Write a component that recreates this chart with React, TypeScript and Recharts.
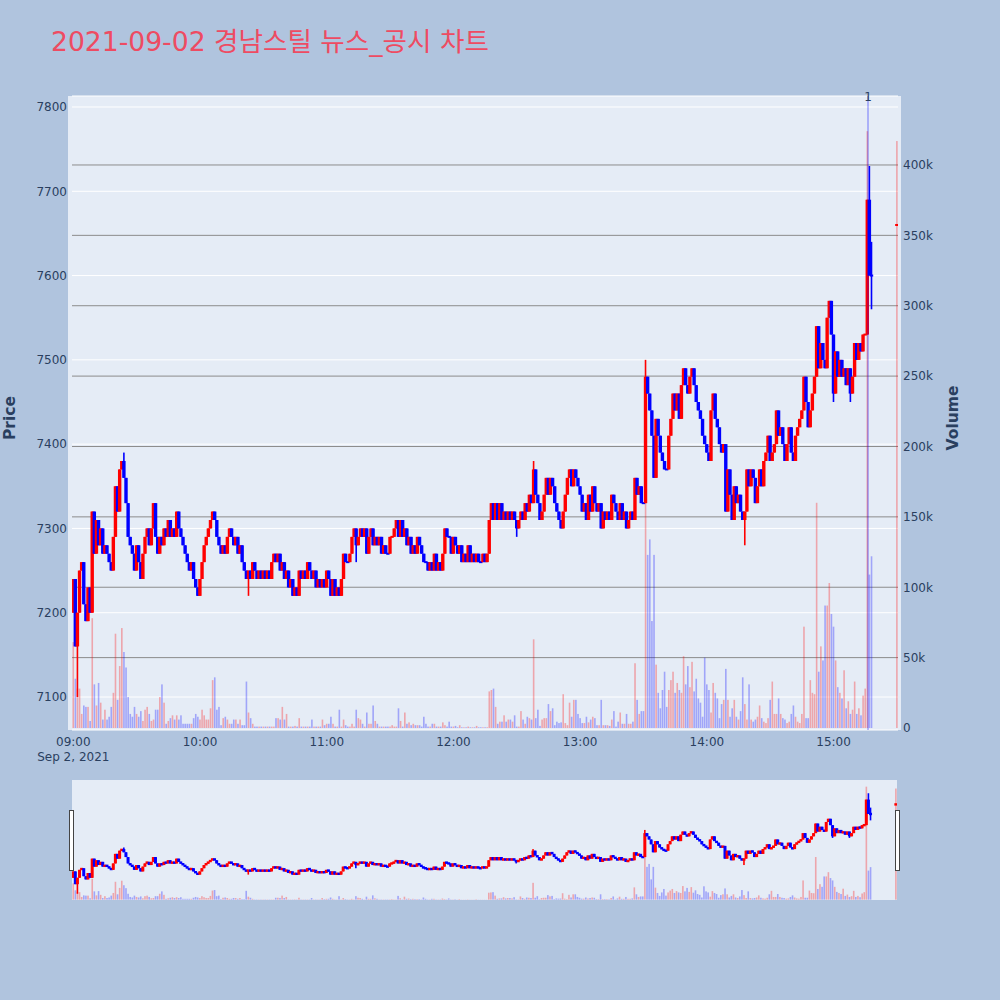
import React from 'react';
import { ComposedChart, Bar, XAxis, YAxis, CartesianGrid, ReferenceLine } from 'recharts';

// ---------- text ----------
const titleText = '2021-09-02 경남스틸 뉴스_공시 차트';
const dateLabel = 'Sep 2, 2021';
const priceAxisTitle = 'Price';
const volumeAxisTitle = 'Volume';

// ---------- ticks ----------
const timeTicks = [0, 60, 120, 180, 240, 300, 360]; // minutes after 09:00
const timeLabels = ['09:00', '10:00', '11:00', '12:00', '13:00', '14:00', '15:00'];
const priceTicks = [7100, 7200, 7300, 7400, 7500, 7600, 7700, 7800];
const volumeTicks = [0, 50000, 100000, 150000, 200000, 250000, 300000, 350000, 400000];
const volumeGridValues = [50000, 100000, 150000, 200000, 250000, 300000, 350000, 400000];

// ---------- data (one entry per minute from 09:00) ----------
const firstOpen = 7200;
const closes = [
  7240, 7160, 7200, 7250, 7260, 7210, 7190, 7230, 7200, 7320,
  7270, 7310, 7280, 7300, 7270, 7280, 7270, 7260, 7250, 7290,
  7350, 7320, 7370, 7380, 7360, 7330, 7290, 7280, 7270, 7250,
  7280, 7260, 7240, 7270, 7290, 7300, 7280, 7300, 7330, 7290,
  7270, 7290, 7280, 7300, 7290, 7310, 7290, 7300, 7290, 7320,
  7300, 7290, 7280, 7270, 7260, 7250, 7260, 7240, 7230, 7220,
  7240, 7260, 7280, 7290, 7300, 7310, 7320, 7310, 7290, 7280,
  7270, 7280, 7270, 7290, 7300, 7290, 7280, 7290, 7270, 7280,
  7260, 7250, 7240, 7250, 7240, 7260, 7250, 7240, 7250, 7240,
  7250, 7240, 7250, 7240, 7260, 7270, 7260, 7270, 7250, 7260,
  7240, 7250, 7230, 7240, 7220, 7230, 7220, 7250, 7240, 7250,
  7240, 7260, 7250, 7240, 7250, 7230, 7240, 7230, 7240, 7230,
  7250, 7240, 7220, 7240, 7220, 7230, 7220, 7240, 7270, 7260,
  7260, 7270, 7290, 7300, 7280, 7290, 7300, 7290, 7300, 7270,
  7290, 7300, 7280, 7290, 7280, 7290, 7270, 7280, 7270, 7270,
  7290, 7290, 7300, 7310, 7290, 7310, 7290, 7300, 7280, 7290,
  7270, 7280, 7270, 7290, 7280, 7270, 7260, 7260, 7250, 7260,
  7250, 7270, 7250, 7260, 7250, 7270, 7300, 7290, 7290, 7270,
  7290, 7280, 7270, 7280, 7260, 7270, 7260, 7280, 7260, 7270,
  7260, 7270, 7260, 7260, 7270, 7260, 7270, 7310, 7330, 7310,
  7330, 7310, 7330, 7310, 7320, 7310, 7320, 7310, 7320, 7310,
  7300, 7310, 7320, 7310, 7330, 7320, 7340, 7330, 7370, 7340,
  7330, 7310, 7320, 7340, 7360, 7340, 7360, 7350, 7330, 7320,
  7310, 7300, 7320, 7340, 7360, 7370, 7350, 7370, 7360, 7350,
  7340, 7320, 7330, 7310, 7340, 7320, 7350, 7330, 7320, 7330,
  7300, 7320, 7310, 7320, 7310, 7340, 7330, 7320, 7310, 7330,
  7310, 7320, 7300, 7310, 7320, 7310, 7360, 7340, 7350, 7330,
  7330, 7480, 7460, 7440, 7410, 7360, 7430, 7410, 7390, 7380,
  7370, 7370, 7410, 7430, 7460, 7440, 7460, 7430, 7470, 7490,
  7470, 7460, 7480, 7490, 7470, 7450, 7440, 7430, 7410, 7400,
  7390, 7380, 7440, 7460, 7430, 7420, 7400, 7390, 7400, 7320,
  7370, 7340, 7310, 7350, 7330, 7340, 7320, 7310, 7320, 7370,
  7350, 7370, 7360, 7330, 7350, 7370, 7350, 7380, 7390, 7410,
  7380, 7390, 7400, 7440, 7410, 7420, 7400, 7380, 7400, 7420,
  7390, 7380, 7410, 7420, 7430, 7440, 7480, 7450, 7420, 7440,
  7460, 7480, 7540, 7490, 7520, 7500, 7490, 7550, 7570, 7530,
  7460, 7510, 7480, 7500, 7480, 7490, 7470, 7490, 7460, 7480,
  7520, 7500, 7520, 7510, 7530, 7530, 7690, 7600, 7600,
];
// volume per minute, in thousands of shares
const volumeThousands = [
  61, 35, 28, 28, 10, 16, 15, 15, 5, 78,
  31, 16, 32, 18, 6, 13, 6, 8, 15, 25,
  67, 20, 44, 71, 54, 43, 22, 10, 8, 15,
  10, 8, 12, 5, 13, 15, 10, 5, 6, 13,
  13, 22, 31, 18, 3, 5, 7, 9, 6, 9,
  6, 9, 3, 3, 3, 3, 3, 7, 10, 8,
  6, 13, 9, 6, 6, 14, 34, 36, 13, 15,
  2, 7, 8, 6, 3, 3, 6, 6, 3, 6,
  2, 2, 33, 11, 7, 3, 1, 1, 1, 1,
  1, 1, 1, 1, 1, 1, 7, 7, 6, 15,
  6, 10, 1, 1, 1, 1.5, 1, 7, 1, 1,
  1, 1, 1, 6, 1, 1, 1, 1, 6, 2,
  3, 3, 8, 3, 1, 1, 13, 1, 6, 2,
  1, 1, 3, 1, 13, 7, 6, 3, 1, 11,
  3, 3, 16, 5, 3, 1, 1, 1, 1, 1,
  1, 2, 1, 1, 14, 5, 1, 11, 3, 4,
  2, 3, 2, 2, 2, 1, 8, 3, 1, 1,
  3, 3, 1, 1, 1, 4, 2, 1, 4.5, 1,
  1, 1.5, 0.5, 2, 0.5, 0.5, 0.5, 1, 0.5, 0.5,
  0.5, 1.5, 0.5, 0.5, 0.5, 0.5, 0.5, 26, 27, 28,
  15, 3, 4.5, 4.5, 9, 4.5, 6, 6, 4.5, 9,
  1, 1, 12, 6, 3, 8, 7, 6, 63, 7,
  13, 1.5, 6, 7, 7, 17, 12, 14, 2, 4.5,
  3.5, 4, 24, 3.5, 2, 18, 8, 20, 20, 10,
  7, 3.5, 3.5, 8, 4, 6, 8, 7, 2, 2,
  20, 2, 2, 2, 1.5, 6, 12, 1, 4.5, 11,
  3, 3, 10, 3, 3, 4.5, 46, 20, 10, 12,
  12, 160, 123, 134, 76, 123, 45, 25, 14, 27,
  40, 15, 27, 34, 40, 25, 32, 27, 25, 51,
  31, 44, 29, 47, 26, 35, 21, 18, 8, 50,
  31, 27, 11, 32, 25, 21, 7, 17, 20, 42,
  20, 8, 14, 20, 8, 6, 12, 36, 17, 6,
  31, 6, 4.5, 6, 8, 16, 7, 4.5, 3.5, 7,
  20, 33, 10, 10, 21, 10, 7, 6, 3.5, 4.5,
  10, 16, 8, 4.5, 3.5, 10, 72, 7, 7, 34,
  25, 24, 160, 40, 58, 48, 87, 87, 103, 81,
  72, 48, 29, 25, 21, 41, 14, 19, 10, 13,
  33, 10, 14, 9, 23, 28, 424, 109, 122,
];
// [minute, price] of shadows that reach past the body
const highWicks = [[24, 7390], [218, 7380], [271, 7500], [377, 7730], [378, 7640]];
const lowWicks = [[2, 7100], [83, 7220], [134, 7260], [210, 7290], [318, 7280], [360, 7450], [368, 7450], [378, 7560]];
// closing single-price auction (15:30)
const auctionMinute = 390;
const auctionPrice = 7660;
const auctionVolumeThousands = 417;
// news marks
const newsMinutes = [376.3];
const newsLabels = ['1'];

// ---------- axis ranges ----------
const TIME_DOMAIN: [number, number] = [-0.62, 390.5];
const PRICE_DOMAIN: [number, number] = [7060.85, 7813.05];
const VOLUME_DOMAIN: [number, number] = [-1420, 449000];

const FONT = '"DejaVu Sans", Verdana, sans-serif';
const TEXT_COLOR = '#2a3f5f';
const UP = '#ff0000';
const DOWN = '#0000ff';
const UP_VOL = 'rgba(255,0,0,0.3)';
const DOWN_VOL = 'rgba(0,0,255,0.3)';

type Row = { minute: number; open: number; high: number; low: number; close: number; volume: number; up: boolean };

function buildRows(): Row[] {
  const rows: Row[] = [];
  let prevClose = firstOpen;
  let prevUp = true;
  const push = (minute: number, open: number, close: number, vol: number, idx: number) => {
    let high = Math.max(open, close);
    let low = Math.min(open, close);
    highWicks.forEach(([m, p]) => { if (m === idx) high = Math.max(high, p); });
    lowWicks.forEach(([m, p]) => { if (m === idx) low = Math.min(low, p); });
    const up = close > open ? true : close < open ? false : close > prevClose ? true : close < prevClose ? false : prevUp;
    rows.push({ minute, open, high, low, close, volume: vol * 1000, up });
    prevClose = close;
    prevUp = up;
  };
  closes.forEach((c, i) => {
    const open = i === 0 ? firstOpen : closes[i - 1];
    push(i, open, c, volumeThousands[i], i);
  });
  push(auctionMinute, auctionPrice, auctionPrice, auctionVolumeThousands, -1);
  return rows;
}
const rows = buildRows();

const makeCandleShape = (bodyW: number, wickW: number, minH: number) => (props: any) => {
  const { x, y, width, height, payload } = props;
  if (!payload || !Number.isFinite(x) || !Number.isFinite(y) || !Number.isFinite(height)) return <g />;
  const span = payload.high - PRICE_DOMAIN[0];
  const toY = (v: number) => y + (height * (payload.high - v)) / span;
  const cx = x + width / 2;
  const color = payload.up ? UP : DOWN;
  const yo = toY(payload.open);
  const yc = toY(payload.close);
  let top = Math.min(yo, yc);
  let h = Math.abs(yo - yc);
  if (h < minH) {
    top = top + h / 2 - minH / 2;
    h = minH;
  }
  const yh = toY(payload.high);
  const yl = toY(payload.low);
  return (
    <g>
      <rect x={cx - wickW / 2} y={yh} width={wickW} height={Math.max(yl - yh, 0.5)} fill={color} />
      <rect x={cx - bodyW / 2} y={top} width={bodyW} height={h} fill={color} />
    </g>
  );
};

const makeVolumeShape = (w: number) => (props: any) => {
  const { x, y, width, height, payload } = props;
  if (!payload || !Number.isFinite(x) || !Number.isFinite(y)) return <g />;
  const cx = x + width / 2;
  return <rect x={cx - w / 2} y={y} width={w} height={Math.max(height, 0)} fill={payload.up ? UP_VOL : DOWN_VOL} />;
};

const mainCandle = makeCandleShape(3.4, 1.6, 2);
const mainVolume = makeVolumeShape(1.6);
const sliderCandle = makeCandleShape(3, 1.6, 2.4);
const sliderVolume = makeVolumeShape(1.6);

const TimeTick = (props: any) => {
  const { x, y, payload } = props;
  const i = timeTicks.indexOf(payload.value);
  return (
    <g>
      <text x={x} y={y + 15.7} textAnchor="middle" fill={TEXT_COLOR} fontSize={12} fontFamily={FONT}>
        {timeLabels[i]}
      </text>
      {i === 0 ? (
        <text x={x} y={y + 31} textAnchor="middle" fill={TEXT_COLOR} fontSize={12} fontFamily={FONT}>
          {dateLabel}
        </text>
      ) : null}
    </g>
  );
};

const fmtVolume = (v: number) => (v === 0 ? '0' : `${v / 1000}k`);

const tickStyle = { fill: TEXT_COLOR, fontSize: 12, fontFamily: FONT };

export default function App() {
  return (
    <div style={{ position: 'absolute', left: 0, top: 0, width: 1000, height: 1000, background: '#b0c4de', overflow: 'hidden' }}>
      <div style={{ position: 'absolute', left: 68, top: 96, width: 833, height: 634, background: '#e5ecf6' }} />
      <div style={{ position: 'absolute', left: 72, top: 780, width: 825, height: 120, background: '#e5ecf6' }} />

      <div style={{ position: 'absolute', left: 0, top: 0 }}>
        <ComposedChart width={1000} height={780} data={rows} margin={{ top: 96, right: 52, bottom: 10, left: 12 }}>
          <XAxis
            xAxisId="t"
            dataKey="minute"
            type="number"
            domain={TIME_DOMAIN}
            ticks={timeTicks}
            interval={0}
            allowDataOverflow
            axisLine={false}
            tickLine={false}
            tickSize={0}
            tickMargin={0}
            height={40}
            tick={<TimeTick />}
          />
          <XAxis xAxisId="v" dataKey="minute" type="number" domain={TIME_DOMAIN} allowDataOverflow hide />
          <YAxis
            yAxisId="price"
            orientation="left"
            width={60}
            type="number"
            domain={PRICE_DOMAIN}
            ticks={priceTicks}
            interval={0}
            allowDataOverflow
            axisLine={false}
            tickLine={false}
            tickSize={0}
            tickMargin={5}
            tick={tickStyle}
          />
          <YAxis
            yAxisId="vol"
            orientation="right"
            width={50}
            type="number"
            domain={VOLUME_DOMAIN}
            ticks={volumeTicks}
            interval={0}
            allowDataOverflow
            axisLine={false}
            tickLine={false}
            tickSize={0}
            tickMargin={5}
            tick={tickStyle}
            tickFormatter={fmtVolume}
          />
          <CartesianGrid xAxisId="t" yAxisId="price" vertical={false} stroke="#ffffff" strokeWidth={1} />
          <CartesianGrid
            xAxisId="t"
            yAxisId="vol"
            vertical={false}
            stroke="#8c8c8c"
            strokeWidth={1}
            horizontalValues={volumeGridValues}
          />
          <Bar xAxisId="v" yAxisId="vol" dataKey="volume" barSize={2} shape={mainVolume} isAnimationActive={false} />
          <Bar xAxisId="t" yAxisId="price" dataKey="high" barSize={3} shape={mainCandle} isAnimationActive={false} />
          {newsMinutes.map((m, i) => (
            <ReferenceLine
              key={`news-${i}`}
              xAxisId="t"
              yAxisId="price"
              x={m}
              stroke="rgba(0,0,255,0.25)"
              strokeWidth={2}
              label={(p: any) => (
                <text
                  x={p.viewBox.x}
                  y={p.viewBox.y + 4.7}
                  textAnchor="middle"
                  fill={TEXT_COLOR}
                  fontSize={12}
                  fontFamily={FONT}
                >
                  {newsLabels[i]}
                </text>
              )}
            />
          ))}
        </ComposedChart>
      </div>

      <div style={{ position: 'absolute', left: 0, top: 780 }}>
        <ComposedChart width={1000} height={120} data={rows} margin={{ top: 0, right: 103, bottom: 0, left: 72 }}>
          <XAxis xAxisId="t" dataKey="minute" type="number" domain={TIME_DOMAIN} allowDataOverflow hide />
          <XAxis xAxisId="v" dataKey="minute" type="number" domain={TIME_DOMAIN} allowDataOverflow hide />
          <YAxis yAxisId="price" type="number" domain={PRICE_DOMAIN} allowDataOverflow hide />
          <YAxis yAxisId="vol" type="number" domain={VOLUME_DOMAIN} allowDataOverflow hide />
          <Bar xAxisId="v" yAxisId="vol" dataKey="volume" barSize={2} shape={sliderVolume} isAnimationActive={false} />
          <Bar xAxisId="t" yAxisId="price" dataKey="high" barSize={3} shape={sliderCandle} isAnimationActive={false} />
        </ComposedChart>
      </div>

      <svg width={1000} height={1000} style={{ position: 'absolute', left: 0, top: 0, pointerEvents: 'none' }}>
        <text x={51} y={51} fontSize={26.6} fill="#ee4b62" fontFamily={'"DejaVu Sans", "Noto Sans CJK KR", sans-serif'}>
          {titleText}
        </text>
        <text
          x={0}
          y={0}
          transform="translate(10,418) rotate(-90)"
          textAnchor="middle"
          dominantBaseline="central"
          fontSize={15.5}
          fontWeight="bold"
          fill={TEXT_COLOR}
          fontFamily={FONT}
        >
          {priceAxisTitle}
        </text>
        <text
          x={0}
          y={0}
          transform="translate(953,418) rotate(-90)"
          textAnchor="middle"
          dominantBaseline="central"
          fontSize={15.5}
          fontWeight="bold"
          fill={TEXT_COLOR}
          fontFamily={FONT}
        >
          {volumeAxisTitle}
        </text>
        <rect x={69.5} y={810.5} width={4} height={60} fill="#ffffff" stroke="#444444" strokeWidth={1} />
        <rect x={895.5} y={810.5} width={4} height={60} fill="#ffffff" stroke="#444444" strokeWidth={1} />
      </svg>
    </div>
  );
}
